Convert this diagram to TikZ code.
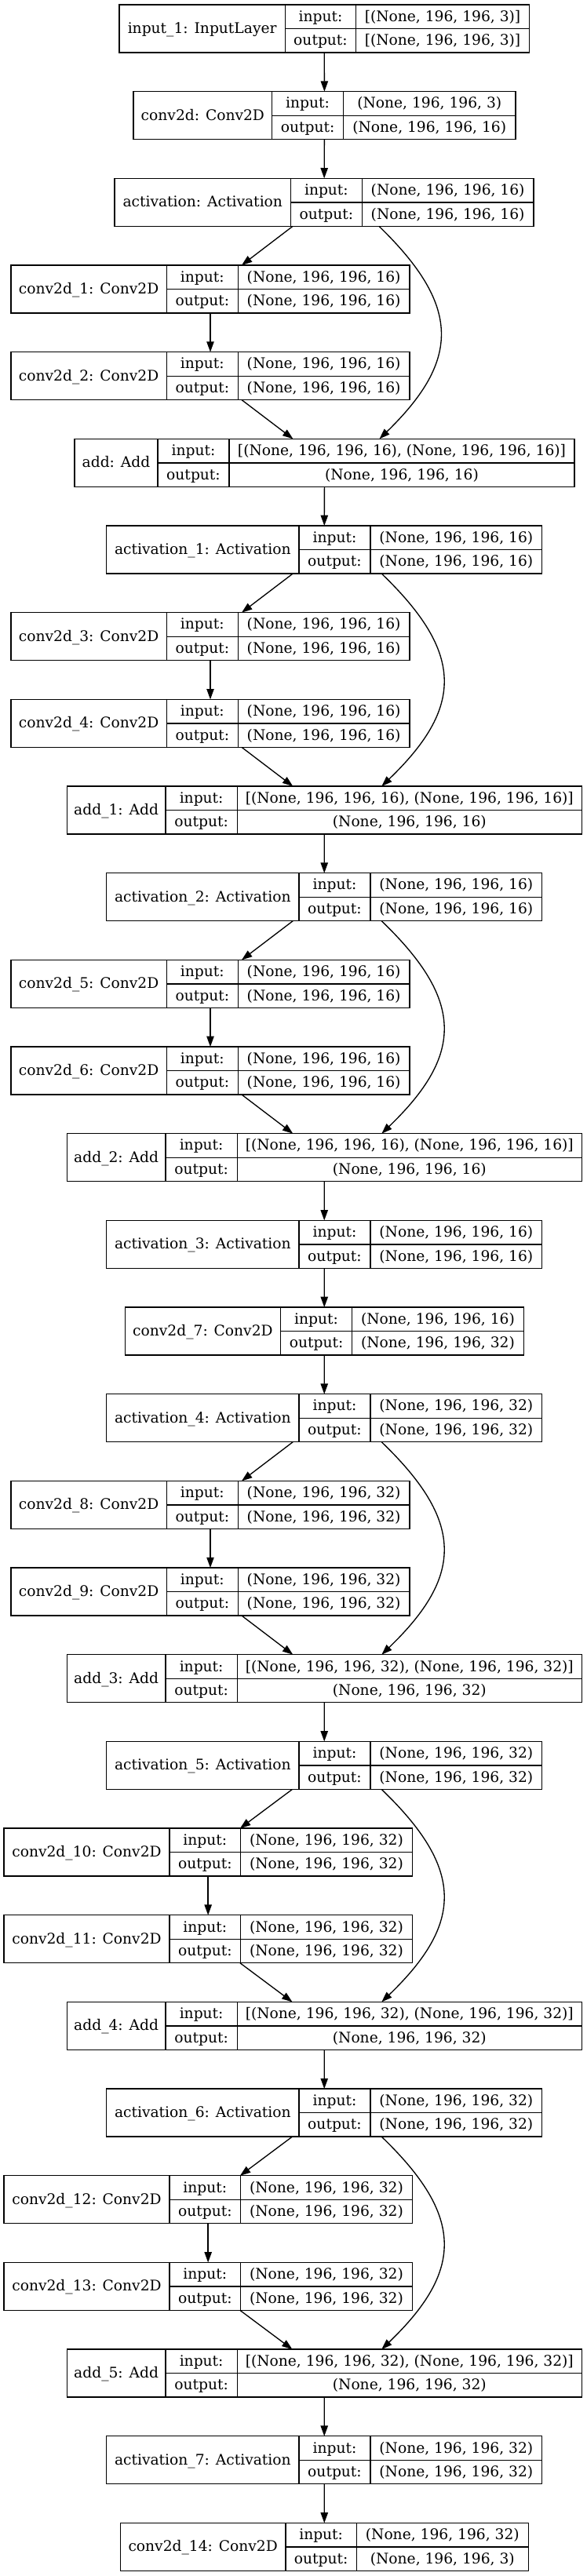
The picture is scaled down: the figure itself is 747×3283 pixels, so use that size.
\documentclass[tikz,border=0pt]{standalone}
\usepackage{fontspec}
\setmainfont{DejaVu Serif}
\usetikzlibrary{arrows.meta,fit,calc}
\tikzset{
  recbox/.style={draw=black, line width=1pt, inner sep=0pt, outer sep=0pt},
  recline/.style={draw=black, line width=1pt},
  rectxt/.style={anchor=base, inner sep=0pt, outer sep=0pt, font=\fontsize{14}{16}\selectfont},
  arr/.style={draw=black, line width=1pt, -{Triangle[length=10pt,width=7pt]}},
}
\newcommand\rec[9]{%
  \pgfmathsetmacro\rT{6+110.67*#2}%
  \pgfmathsetmacro\rB{\rT+61}%
  \pgfmathsetmacro\rM{\rT+30.5}%
  \pgfmathsetmacro\rI{\rT+15.25+6}%
  \pgfmathsetmacro\rO{\rM+15.25+6}%
  \node[recbox, fit={(#3,\rT) (#6,\rB)}] (#1) {};
  \draw[recline] (#4,\rT) -- (#4,\rB) (#5,\rT) -- (#5,\rB) (#4,\rM) -- (#6,\rM);
  \node[rectxt] (#1-l) at ({(#3+#4)/2},{\rM+6}) {#7};
  \node[rectxt] (#1-il) at ({(#4+#5)/2},\rI) {input:};
  \node[rectxt] (#1-ol) at ({(#4+#5)/2},\rO) {output:};
  \node[rectxt] (#1-iv) at ({(#5+#6)/2},\rI) {#8};
  \node[rectxt] (#1-ov) at ({(#5+#6)/2},\rO) {#9};
}
\newcommand\skipedge[4]{%
  \draw[arr] ($(#1.south)+(#3,0)$) .. controls ($(#1.south)+(#4,101)$) and ($(#2.north)+(#4,-101)$) .. ($(#2.north)+(#3,0)$);
}
\begin{document}
\begin{tikzpicture}[x=0.75pt,y=-0.75pt]
\useasboundingbox (0,0) rectangle (747,3283);
\def\sA{(None, 196, 196, 16)}
\def\sB{(None, 196, 196, 32)}
\def\pA{[(None, 196, 196, 16), (None, 196, 196, 16)]}
\def\pB{[(None, 196, 196, 32), (None, 196, 196, 32)]}
\rec{in1}{0}{152}{363.3}{453.7}{674.3}{input\_1: InputLayer}{[(None, 196, 196, 3)]}{[(None, 196, 196, 3)]}
\rec{c0}{1}{170}{346.7}{437.5}{657}{conv2d: Conv2D}{(None, 196, 196, 3)}{\sA}
\rec{a0}{2}{146}{370.5}{461.3}{680}{activation: Activation}{\sA}{\sA}
\rec{c1}{3}{14}{212.3}{303.3}{522}{conv2d\_1: Conv2D}{\sA}{\sA}
\rec{c2}{4}{14}{212.3}{303.3}{522}{conv2d\_2: Conv2D}{\sA}{\sA}
\rec{ad0}{5}{95}{201}{292}{732}{add: Add}{\pA}{\sA}
\rec{a1}{6}{135.7}{381}{472}{690.7}{activation\_1: Activation}{\sA}{\sA}
\rec{c3}{7}{14}{212.3}{303.3}{522}{conv2d\_3: Conv2D}{\sA}{\sA}
\rec{c4}{8}{14}{212.3}{303.3}{522}{conv2d\_4: Conv2D}{\sA}{\sA}
\rec{ad1}{9}{85.3}{211}{302.3}{741.3}{add\_1: Add}{\pA}{\sA}
\rec{a2}{10}{135.7}{381}{472}{690.7}{activation\_2: Activation}{\sA}{\sA}
\rec{c5}{11}{14}{212.3}{303.3}{522}{conv2d\_5: Conv2D}{\sA}{\sA}
\rec{c6}{12}{14}{212.3}{303.3}{522}{conv2d\_6: Conv2D}{\sA}{\sA}
\rec{ad2}{13}{85.3}{211}{302.3}{741.3}{add\_2: Add}{\pA}{\sA}
\rec{a3}{14}{135.7}{381}{472}{690.7}{activation\_3: Activation}{\sA}{\sA}
\rec{c7}{15}{159.3}{357.6}{448.6}{667.3}{conv2d\_7: Conv2D}{\sA}{\sB}
\rec{a4}{16}{135.7}{381}{472}{690.7}{activation\_4: Activation}{\sB}{\sB}
\rec{c8}{17}{14}{212.3}{303.3}{522}{conv2d\_8: Conv2D}{\sB}{\sB}
\rec{c9}{18}{14}{212.3}{303.3}{522}{conv2d\_9: Conv2D}{\sB}{\sB}
\rec{ad3}{19}{85.3}{211}{302.3}{741.3}{add\_3: Add}{\pB}{\sB}
\rec{a5}{20}{135.7}{381}{472}{690.7}{activation\_5: Activation}{\sB}{\sB}
\rec{c10}{21}{5}{216}{306.7}{525.3}{conv2d\_10: Conv2D}{\sB}{\sB}
\rec{c11}{22}{5}{216}{306.7}{525.3}{conv2d\_11: Conv2D}{\sB}{\sB}
\rec{ad4}{23}{85.3}{211}{302.3}{741.3}{add\_4: Add}{\pB}{\sB}
\rec{a6}{24}{135.7}{381}{472}{690.7}{activation\_6: Activation}{\sB}{\sB}
\rec{c12}{25}{5}{216}{306.7}{525.3}{conv2d\_12: Conv2D}{\sB}{\sB}
\rec{c13}{26}{5}{216}{306.7}{525.3}{conv2d\_13: Conv2D}{\sB}{\sB}
\rec{ad5}{27}{85.3}{211}{302.3}{741.3}{add\_5: Add}{\pB}{\sB}
\rec{a7}{28}{135.7}{381}{472}{690.7}{activation\_7: Activation}{\sB}{\sB}
\rec{c14}{29}{153.3}{364}{454.3}{673.3}{conv2d\_14: Conv2D}{\sB}{(None, 196, 196, 3)}
% edges
\draw[arr] (in1) -- (c0);
\draw[arr] (c0) -- (a0);
\draw[arr] (a0) -- (c1);
\draw[arr] (c1) -- (c2);
\draw[arr] (c2) -- (ad0);
\skipedge{a0}{ad0}{70}{174}
\draw[arr] (ad0) -- (a1);
\draw[arr] (a1) -- (c3);
\draw[arr] (c3) -- (c4);
\draw[arr] (c4) -- (ad1);
\skipedge{a1}{ad1}{73}{178}
\draw[arr] (ad1) -- (a2);
\draw[arr] (a2) -- (c5);
\draw[arr] (c5) -- (c6);
\draw[arr] (c6) -- (ad2);
\skipedge{a2}{ad2}{73}{178}
\draw[arr] (ad2) -- (a3);
\draw[arr] (a3) -- (c7);
\draw[arr] (c7) -- (a4);
\draw[arr] (a4) -- (c8);
\draw[arr] (c8) -- (c9);
\draw[arr] (c9) -- (ad3);
\skipedge{a4}{ad3}{73}{178}
\draw[arr] (ad3) -- (a5);
\draw[arr] (a5) -- (c10);
\draw[arr] (c10) -- (c11);
\draw[arr] (c11) -- (ad4);
\skipedge{a5}{ad4}{73}{178}
\draw[arr] (ad4) -- (a6);
\draw[arr] (a6) -- (c12);
\draw[arr] (c12) -- (c13);
\draw[arr] (c13) -- (ad5);
\skipedge{a6}{ad5}{73}{178}
\draw[arr] (ad5) -- (a7);
\draw[arr] (a7) -- (c14);
\end{tikzpicture}
\end{document}
